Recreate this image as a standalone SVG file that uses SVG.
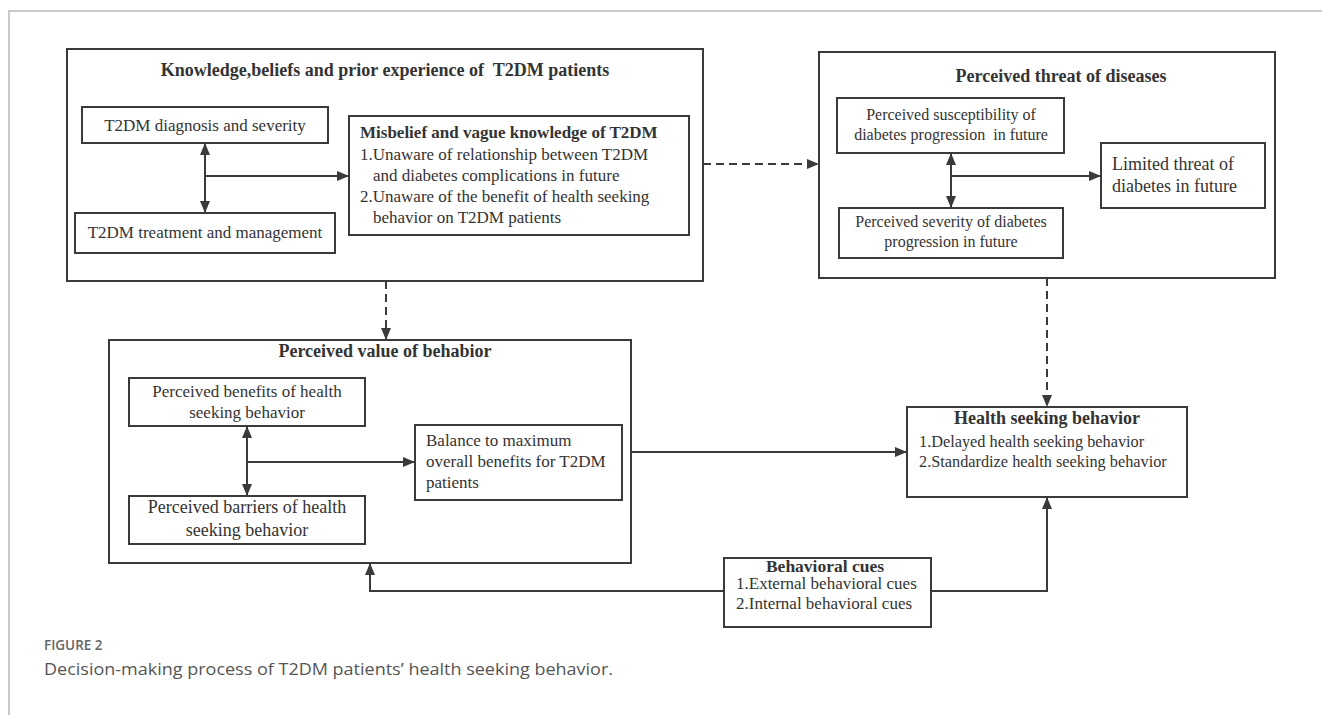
<svg xmlns="http://www.w3.org/2000/svg" width="1322" height="715" viewBox="0 0 1322 715">
<style>
  .box{fill:none;stroke:#3a3a3a;stroke-width:2}
  .t{font-family:"Liberation Serif","Times New Roman",serif;fill:#333;white-space:pre}
  .b{font-weight:bold}
  .m{text-anchor:middle}
  .c{fill:none;stroke:#3a3a3a;stroke-width:2}
  .d{stroke-dasharray:8 5}
  .cap{font-family:"Open Sans","Liberation Sans",sans-serif}
</style>
<defs>
  <marker id="ah" viewBox="0 0 12 10" refX="12" refY="5" markerWidth="12" markerHeight="10" markerUnits="userSpaceOnUse" orient="auto-start-reverse">
    <path d="M0,0 L12,5 L0,10 z" fill="#3a3a3a"/>
  </marker>
</defs>
<rect width="1322" height="715" fill="#fff"/>
<path d="M9,715 V11 H1322" fill="none" stroke="#b8b8b8" stroke-width="1.5"/>

<g id="knowledge">
  <rect class="box" x="67" y="49" width="636" height="232"/>
  <text class="t b m" x="385" y="76" font-size="18">Knowledge,beliefs and prior experience of  T2DM patients</text>
</g>
<g id="diagnosis">
  <rect class="box" x="82" y="107" width="246" height="36"/>
  <text class="t m" x="205" y="131" font-size="17">T2DM diagnosis and severity</text>
</g>
<g id="treatment">
  <rect class="box" x="75" y="213" width="260" height="40"/>
  <text class="t m" x="205" y="238" font-size="17">T2DM treatment and management</text>
</g>
<g id="misbelief">
  <rect class="box" x="349" y="116" width="340" height="119"/>
  <text class="t b" x="360" y="138" font-size="17">Misbelief and vague knowledge of T2DM</text>
  <text class="t" x="360" y="160" font-size="17">1.Unaware of relationship between T2DM</text>
  <text class="t" x="373" y="181" font-size="17">and diabetes complications in future</text>
  <text class="t" x="360" y="202" font-size="17">2.Unaware of the benefit of health seeking</text>
  <text class="t" x="373" y="223" font-size="17">behavior on T2DM patients</text>
</g>

<g id="threat">
  <rect class="box" x="819" y="52" width="456" height="226"/>
  <text class="t b m" x="1061" y="82" font-size="18">Perceived threat of diseases</text>
</g>
<g id="susceptibility">
  <rect class="box" x="837" y="98" width="227" height="55"/>
  <text class="t m" x="951" y="119.5" font-size="16">Perceived susceptibility of</text>
  <text class="t m" x="951" y="139.5" font-size="16">diabetes progression  in future</text>
</g>
<g id="severity">
  <rect class="box" x="839" y="208" width="224" height="50"/>
  <text class="t m" x="951" y="227" font-size="16">Perceived severity of diabetes</text>
  <text class="t m" x="951" y="247" font-size="16">progression in future</text>
</g>
<g id="limited">
  <rect class="box" x="1101" y="143" width="164" height="65"/>
  <text class="t" x="1112" y="170" font-size="18">Limited threat of</text>
  <text class="t" x="1112" y="192" font-size="18">diabetes in future</text>
</g>

<g id="value">
  <rect class="box" x="109" y="340" width="522" height="223"/>
  <text class="t b m" x="385" y="357" font-size="18">Perceived value of behabior</text>
</g>
<g id="benefits">
  <rect class="box" x="129" y="378" width="236" height="48"/>
  <text class="t m" x="247" y="397" font-size="17">Perceived benefits of health</text>
  <text class="t m" x="247" y="418" font-size="17">seeking behavior</text>
</g>
<g id="barriers">
  <rect class="box" x="129" y="496" width="236" height="48"/>
  <text class="t m" x="247" y="513" font-size="18">Perceived barriers of health</text>
  <text class="t m" x="247" y="535.5" font-size="18">seeking behavior</text>
</g>
<g id="balance">
  <rect class="box" x="415" y="425" width="207" height="75"/>
  <text class="t" x="426" y="446" font-size="17">Balance to maximum</text>
  <text class="t" x="426" y="467" font-size="17">overall benefits for T2DM</text>
  <text class="t" x="426" y="488" font-size="17">patients</text>
</g>

<g id="health">
  <rect class="box" x="907" y="407" width="280" height="90"/>
  <text class="t b m" x="1047" y="424" font-size="18">Health seeking behavior</text>
  <text class="t" x="919" y="446.5" font-size="16.3">1.Delayed health seeking behavior</text>
  <text class="t" x="919" y="466.5" font-size="16.3">2.Standardize health seeking behavior</text>
</g>

<g id="cues">
  <rect class="box" x="724" y="558" width="207" height="69"/>
  <text class="t b m" x="825" y="571.5" font-size="17.5">Behavioral cues</text>
  <text class="t" x="736" y="588.5" font-size="17">1.External behavioral cues</text>
  <text class="t" x="736" y="609" font-size="17">2.Internal behavioral cues</text>
</g>

<g id="connectors">
  <line class="c" x1="205" y1="143" x2="205" y2="213" marker-start="url(#ah)" marker-end="url(#ah)"/>
  <line class="c" x1="205" y1="176" x2="349" y2="176" marker-end="url(#ah)"/>
  <line class="c" x1="951" y1="153" x2="951" y2="208" marker-start="url(#ah)" marker-end="url(#ah)"/>
  <line class="c" x1="951" y1="176" x2="1101" y2="176" marker-end="url(#ah)"/>
  <line class="c" x1="247" y1="426" x2="247" y2="496" marker-start="url(#ah)" marker-end="url(#ah)"/>
  <line class="c" x1="247" y1="462" x2="415" y2="462" marker-end="url(#ah)"/>
  <line class="c d" x1="703" y1="164" x2="819" y2="164" marker-end="url(#ah)"/>
  <line class="c d" x1="386" y1="281" x2="386" y2="340" marker-end="url(#ah)"/>
  <line class="c d" x1="1047" y1="278" x2="1047" y2="407" marker-end="url(#ah)"/>
  <line class="c" x1="631" y1="452" x2="907" y2="452" marker-end="url(#ah)"/>
  <path class="c" d="M931,591 H1047 V497" marker-end="url(#ah)"/>
  <path class="c" d="M724,591 H370 V563" marker-end="url(#ah)"/>
</g>

<g id="caption">
  <text class="cap" x="44" y="650" font-size="13.5" font-weight="600" fill="#666">FIGURE 2</text>
  <text class="cap" x="44" y="675" font-size="17" fill="#555" textLength="569" lengthAdjust="spacingAndGlyphs">Decision-making process of T2DM patients’ health seeking behavior.</text>
</g>
</svg>
